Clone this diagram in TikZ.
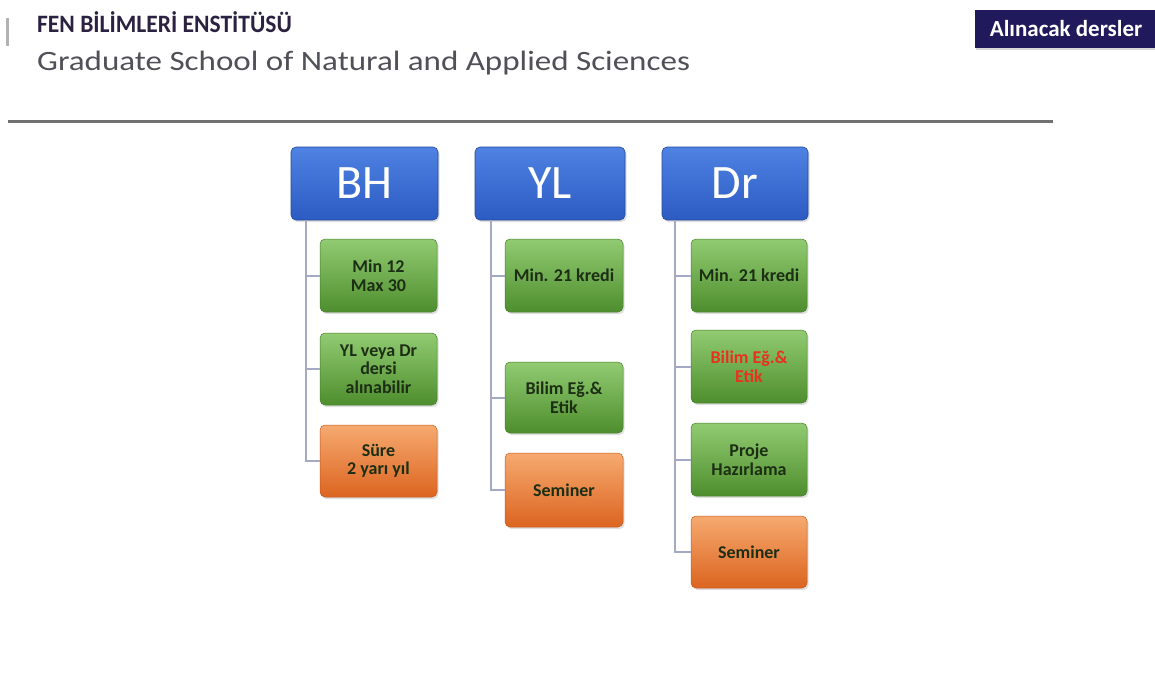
\documentclass[tikz,border=0pt]{standalone}
\usepackage{fontspec}
\setmainfont{Carlito}
\usetikzlibrary{shadows}
\definecolor{titlecol}{HTML}{2B2140}
\definecolor{subcol}{HTML}{505058}
\definecolor{badgecol}{HTML}{201A5C}
\definecolor{rulecol}{HTML}{707070}
\definecolor{hdtop}{HTML}{4F82E3}
\definecolor{hdbot}{HTML}{2C5BC2}
\definecolor{grtop}{HTML}{92CB72}
\definecolor{grbot}{HTML}{4E8E2E}
\definecolor{ortop}{HTML}{F6AA70}
\definecolor{orbot}{HTML}{DC6420}
\definecolor{conncol}{HTML}{A4AAC4}
\definecolor{txtdark}{HTML}{1C2E14}
\definecolor{txtred}{HTML}{E8321E}
\tikzset{
  hdr/.style={rounded corners=5pt, top color=hdtop, bottom color=hdbot, draw=hdbot!80!black, line width=0.6pt,
    minimum height=73pt, text=white, font=\fontsize{48}{50}\selectfont, inner sep=0pt,
    drop shadow={opacity=0.25, shadow xshift=1.5pt, shadow yshift=-2pt}},
  kid/.style={rounded corners=5pt, minimum height=72pt, inner sep=0pt, align=center,
    text=txtdark, font=\fontsize{18}{18.5}\selectfont\bfseries, line width=0.5pt,
    drop shadow={opacity=0.25, shadow xshift=1.5pt, shadow yshift=-2pt}},
  grn/.style={kid, top color=grtop, bottom color=grbot, draw=grbot!90!black},
  org/.style={kid, top color=ortop, bottom color=orbot, draw=orbot!90!black},
  conn/.style={draw=conncol, line width=2pt},
}
\begin{document}
\begin{tikzpicture}[x=1pt,y=-1pt]
\useasboundingbox[fill=white] (0,0) rectangle (1155,697);
% header texts
\node[anchor=base west, inner sep=0pt, text=titlecol, font=\fontsize{25}{27}\selectfont\bfseries] (title) at (37,32) {\scalebox{0.94}[1]{FEN BİLİMLERİ ENSTİTÜSÜ}};
\node[anchor=base west, inner sep=0pt, text=subcol, font=\fontsize{28}{30}\selectfont] (sub) at (37,70) {\scalebox{1.18}[1]{Graduate School of Natural and Applied Sciences}};
\fill[gray!60] (6,18) rectangle (9,46);
\draw[rulecol, line width=3pt] (8,121) -- (1053,121);
% badge
\node[fill=badgecol, text=white, font=\fontsize{23}{25}\selectfont\bfseries, minimum width=182pt, minimum height=38pt, inner sep=0pt,
  drop shadow={opacity=0.3, shadow xshift=1pt, shadow yshift=-2pt}] (badge) at (1066,29) {Alınacak dersler};
% connector anchors
\coordinate (bhx) at (306,220);
\coordinate (ylx) at (491,220);
\coordinate (drx) at (675,220);
% headers
\node[hdr, minimum width=147pt] (bh) at (364.5,183.5) {BH};
\node[hdr, minimum width=150pt] (yl) at (550,183.5) {YL};
\node[hdr, minimum width=146pt] (dr) at (735,183.5) {Dr};
% BH children
\node[grn, minimum width=117pt, minimum height=73pt] (bh1) at (378.5,275.5) {Min 12\\Max 30};
\node[grn, minimum width=117pt] (bh2) at (378.5,369) {YL veya Dr\\dersi\\alınabilir};
\node[org, minimum width=117pt] (bh3) at (378.5,461) {Süre\\2 yarı yıl};
% YL children
\node[grn, minimum width=118pt, minimum height=73pt] (yl1) at (564,275.5) {Min. 21 kredi};
\node[grn, minimum width=118pt, minimum height=71pt] (yl2) at (564,397.5) {Bilim Eğ.\&\\Etik};
\node[org, minimum width=118pt, minimum height=74pt] (yl3) at (564,490) {Seminer};
% Dr children
\node[grn, minimum width=116pt, minimum height=73pt] (dr1) at (749,275.5) {Min. 21 kredi};
\node[grn, minimum width=116pt, minimum height=73pt, text=txtred] (dr2) at (749,366.5) {Bilim Eğ.\&\\Etik};
\node[grn, minimum width=116pt, minimum height=73pt] (dr3) at (749,459.5) {Proje\\Hazırlama};
\node[org, minimum width=116pt, minimum height=72pt] (dr4) at (749,552) {Seminer};
\draw[conn] (bhx) |- (bh1.west);
\draw[conn] (bhx) |- (bh2.west);
\draw[conn] (bhx) |- (bh3.west);
\draw[conn] (ylx) |- (yl1.west);
\draw[conn] (ylx) |- (yl2.west);
\draw[conn] (ylx) |- (yl3.west);
\draw[conn] (drx) |- (dr1.west);
\draw[conn] (drx) |- (dr2.west);
\draw[conn] (drx) |- (dr3.west);
\draw[conn] (drx) |- (dr4.west);
\end{tikzpicture}
\end{document}
